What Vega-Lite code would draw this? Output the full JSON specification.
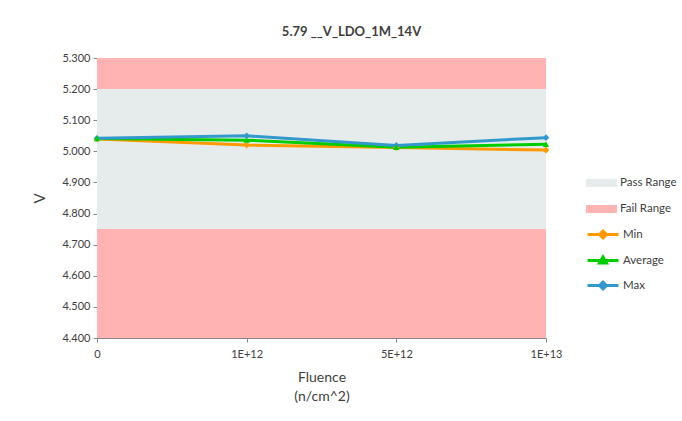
{
  "$schema": "https://vega.github.io/schema/vega-lite/v6.json",
  "width": 449,
  "height": 280,
  "autosize": {"type": "none"},
  "padding": {"left": 97, "top": 58, "right": 136, "bottom": 83},
  "background": "white",
  "config": {
    "font": "Lato",
    "view": {"stroke": null},
    "axis": {"labelFont": "Lato", "titleFont": "Lato", "labelColor": "#404040", "titleColor": "#404040", "domainColor": "#868686", "tickColor": "#868686", "grid": false, "labelFontSize": 11, "titleFontSize": 14, "titleFontWeight": "normal"},
    "axisY": {"labelOverlap": false, "tickCount": 10},
    "legend": {"labelFont": "Lato", "labelFontSize": 11.5, "labelColor": "#404040"}
  },
  "title": {"text": "5.79 __V_LDO_1M_14V", "font": "Lato", "fontSize": 13, "fontWeight": "bold", "color": "#404040", "dx": 30, "offset": 13},
  "datasets": {
    "bands": [
      {"range": "Pass Range", "lo": 4.75, "hi": 5.2},
      {"range": "Fail Range", "lo": 5.2, "hi": 5.3},
      {"range": "Fail Range", "lo": 4.4, "hi": 4.75}
    ],
    "series": [
      {"fluence": "0", "f": 0, "series": "Min", "v": 5.040},
      {"fluence": "1E+12", "f": 1e12, "series": "Min", "v": 5.020},
      {"fluence": "5E+12", "f": 5e12, "series": "Min", "v": 5.012},
      {"fluence": "1E+13", "f": 1e13, "series": "Min", "v": 5.004},
      {"fluence": "0", "f": 0, "series": "Average", "v": 5.041},
      {"fluence": "1E+12", "f": 1e12, "series": "Average", "v": 5.036},
      {"fluence": "5E+12", "f": 5e12, "series": "Average", "v": 5.013},
      {"fluence": "1E+13", "f": 1e13, "series": "Average", "v": 5.023},
      {"fluence": "0", "f": 0, "series": "Max", "v": 5.042},
      {"fluence": "1E+12", "f": 1e12, "series": "Max", "v": 5.050},
      {"fluence": "5E+12", "f": 5e12, "series": "Max", "v": 5.019},
      {"fluence": "1E+13", "f": 1e13, "series": "Max", "v": 5.044}
    ]
  },
  "encoding": {
    "y": {"type": "quantitative", "scale": {"domain": [4.4, 5.3], "nice": false, "zero": false},
      "axis": {"title": "V", "format": ".3f", "values": [4.4, 4.5, 4.6, 4.7, 4.8, 4.9, 5.0, 5.1, 5.2, 5.3], "labelOverlap": false, "tickSize": 4, "labelPadding": 3, "titleFontSize": 15, "titlePadding": 14}}
  },
  "layer": [
    {
      "data": {"name": "bands"},
      "mark": {"type": "rect"},
      "encoding": {
        "y": {"field": "lo", "type": "quantitative"},
        "y2": {"field": "hi"},
        "fill": {"field": "range", "type": "nominal",
          "scale": {"domain": ["Pass Range", "Fail Range"], "range": ["#E6ECEC", "#FFB3B3"]},
          "legend": {"title": null, "orient": "none", "legendX": 489, "legendY": 115, "padding": 0,
            "symbolType": "M-1,-0.4H2.1V0.4H-1Z", "symbolSize": 400, "symbolStrokeWidth": 0, "labelOffset": 14, "rowPadding": 10}}
      }
    },
    {
      "data": {"name": "series"},
      "mark": {"type": "line", "strokeWidth": 3},
      "encoding": {
        "x": {"field": "fluence", "type": "ordinal", "sort": ["0", "1E+12", "5E+12", "1E+13"], "scale": {"type": "point", "padding": 0},
          "axis": {"title": ["Fluence", "(n/cm^2)"], "labelAngle": 0, "tickSize": 4, "labelPadding": 6, "titlePadding": 11, "titleLineHeight": 19}},
        "y": {"field": "v", "type": "quantitative"},
        "color": {"field": "series", "type": "nominal",
          "scale": {"domain": ["Min", "Average", "Max"], "range": ["#FF9900", "#00CC00", "#3399CC"]},
          "legend": {"title": null, "orient": "none", "legendX": 489, "legendY": 165, "padding": 0,
            "symbolType": "M-1,0H2.1", "symbolSize": 400, "symbolStrokeWidth": 3, "labelOffset": 14, "rowPadding": 5,
            "encode": {"symbols": {"update": {
              "fill": {"scale": "color", "field": "value"},
              "shape": {"signal": "datum.value === 'Average' ? 'M-1,0H2.1M0.55,-0.35L0.9,0.25L0.2,0.25Z' : 'M-1,0H2.1M0.55,-0.35L0.9,0L0.55,0.35L0.2,0Z'"}
            }}}}},
        "order": {"field": "f", "type": "quantitative"}
      }
    },
    {
      "data": {"name": "series"},
      "transform": [{"filter": "datum.series !== 'Average'"}],
      "mark": {"type": "point", "filled": true, "opacity": 1, "size": 45, "shape": "diamond"},
      "encoding": {
        "x": {"field": "fluence", "type": "ordinal", "sort": ["0", "1E+12", "5E+12", "1E+13"]},
        "y": {"field": "v", "type": "quantitative"},
        "color": {"field": "series", "type": "nominal", "legend": null}
      }
    },
    {
      "data": {"name": "series"},
      "transform": [{"filter": "datum.series === 'Average'"}],
      "mark": {"type": "point", "filled": true, "opacity": 1, "size": 40, "shape": "triangle-up"},
      "encoding": {
        "x": {"field": "fluence", "type": "ordinal", "sort": ["0", "1E+12", "5E+12", "1E+13"]},
        "y": {"field": "v", "type": "quantitative"},
        "color": {"field": "series", "type": "nominal", "legend": null}
      }
    }
  ]
}
